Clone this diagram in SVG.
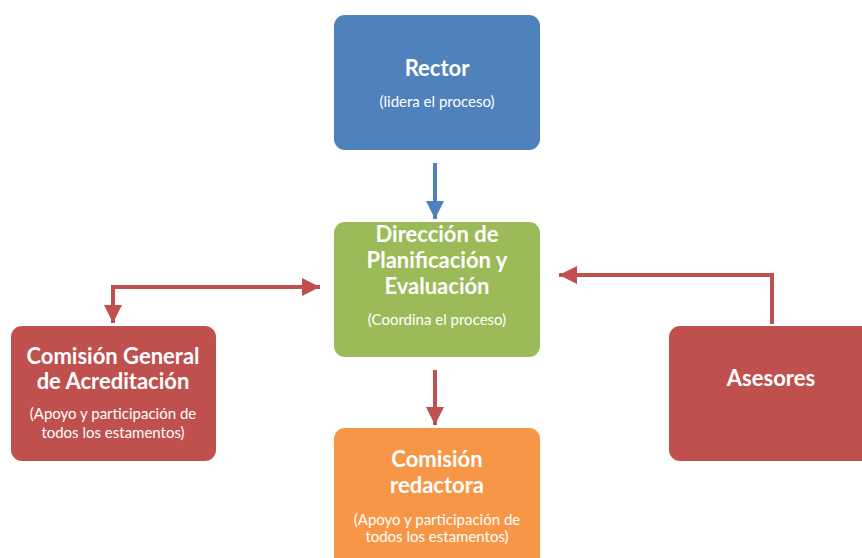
<svg xmlns="http://www.w3.org/2000/svg" width="862" height="558" viewBox="0 0 862 558">
<style>
.t{font-family:Lato,"Open Sans","Liberation Sans",sans-serif;font-weight:bold;font-size:22px;fill:#fff;text-anchor:middle}
.s{font-family:Lato,"Open Sans","Liberation Sans",sans-serif;font-size:15px;fill:#fff;text-anchor:middle}
.cr{fill:none;stroke:#C0504D;stroke-width:4}
.cb{fill:none;stroke:#4F81BD;stroke-width:4}
</style>
<defs>
<marker id="ar" markerUnits="userSpaceOnUse" markerWidth="20" markerHeight="20" refX="18" refY="9" orient="auto"><path d="M0,0 L18,9 L0,18 Z" fill="#C0504D"/></marker>
<marker id="ab" markerUnits="userSpaceOnUse" markerWidth="20" markerHeight="20" refX="18" refY="9" orient="auto"><path d="M0,0 L18,9 L0,18 Z" fill="#4F81BD"/></marker>
</defs>
<rect width="862" height="558" fill="#fff"/>
<g id="connectors">
<path class="cb" d="M435,163 V219" marker-end="url(#ab)"/>
<path class="cr" d="M320,287 H113 V323" marker-end="url(#ar)"/>
<path class="cr" d="M113,287 H320" marker-end="url(#ar)"/>
<path class="cr" d="M772,324 V275 H559" marker-end="url(#ar)"/>
<path class="cr" d="M435,370 V425" marker-end="url(#ar)"/>
</g>
<g id="rector">
<rect x="334" y="15" width="206" height="135" rx="11" fill="#4F81BD"/>
<text class="t" x="437" y="76">Rector</text>
<text class="s" x="437" y="107">(lidera el proceso)</text>
</g>
<g id="direccion">
<rect x="334" y="222" width="206" height="135" rx="11" fill="#9BBB59"/>
<text class="t" x="437" y="242">Dirección de</text>
<text class="t" x="437" y="268">Planificación y</text>
<text class="t" x="437" y="294">Evaluación</text>
<text class="s" x="437" y="325">(Coordina el proceso)</text>
</g>
<g id="comision-general">
<rect x="11" y="326" width="205" height="135" rx="11" fill="#C0504D"/>
<text class="t" x="113" y="364">Comisión General</text>
<text class="t" x="113" y="389">de Acreditación</text>
<text class="s" x="113" y="419">(Apoyo y participación de</text>
<text class="s" x="113" y="438">todos los estamentos)</text>
</g>
<g id="asesores">
<rect x="669" y="326" width="210" height="135" rx="11" fill="#C0504D"/>
<text class="t" x="771" y="386">Asesores</text>
</g>
<g id="comision-redactora">
<rect x="334" y="428" width="206" height="150" rx="11" fill="#F79646"/>
<text class="t" x="437" y="467">Comisión</text>
<text class="t" x="437" y="493">redactora</text>
<text class="s" x="437" y="525">(Apoyo y participación de</text>
<text class="s" x="437" y="542">todos los estamentos)</text>
</g>
</svg>
